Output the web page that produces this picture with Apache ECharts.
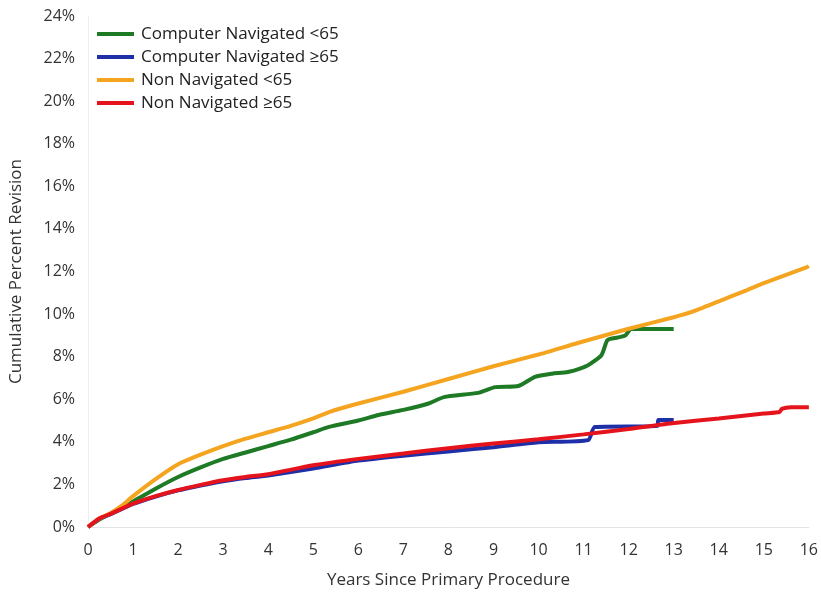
<!DOCTYPE html>
<html>
<head>
<meta charset="utf-8">
<script src="https://cdn.jsdelivr.net/npm/echarts@6/dist/echarts.min.js"></script>
<style>html,body{margin:0;padding:0;background:#fff}#c{width:821px;height:595px}</style>
</head>
<body>
<div id="c"></div>
<script>
const seriesNames = ['Computer Navigated <65', 'Computer Navigated \u226565', 'Non Navigated <65', 'Non Navigated \u226565'];
const compNavUnder65 = [[0,0],[0.25,0.35],[0.5,0.62],[0.75,0.9],[1,1.2],[1.5,1.8],[2,2.35],[2.5,2.8],[3,3.2],[3.5,3.5],[4,3.8],[4.5,4.1],[5,4.45],[5.35,4.7],[6,5.0],[6.45,5.26],[7,5.5],[7.56,5.8],[7.9,6.1],[8.66,6.3],[9.04,6.57],[9.55,6.62],[9.92,7.05],[10.3,7.2],[10.65,7.28],[11.1,7.6],[11.4,8.08],[11.53,8.78],[11.76,8.9],[11.93,9.0],[12.05,9.3],[13,9.3]];
const compNavOver65 = [[0,0],[0.25,0.38],[0.5,0.6],[1,1.08],[1.5,1.43],[2,1.72],[2.5,1.95],[3,2.15],[3.5,2.3],[4,2.42],[5,2.75],[6,3.12],[7,3.35],[8,3.55],[9,3.75],[10,3.98],[11.1,4.08],[11.25,4.7],[12.64,4.75],[12.66,5.02],[13,5.02]];
const nonNavUnder65 = [[0,0],[0.25,0.4],[0.5,0.65],[0.75,1.0],[1,1.45],[1.5,2.25],[2,2.95],[2.5,3.4],[3,3.8],[3.5,4.15],[4,4.45],[4.5,4.75],[5,5.1],[5.35,5.4],[6,5.8],[7,6.35],[8,6.95],[9,7.55],[10,8.1],[10.87,8.64],[11.98,9.3],[13,9.85],[13.4,10.1],[14,10.6],[14.63,11.13],[15,11.45],[15.96,12.2],[16,12.25]];
const nonNavOver65 = [[0,0],[0.25,0.4],[0.5,0.62],[1,1.1],[1.5,1.45],[2,1.74],[2.5,1.98],[3,2.2],[3.5,2.35],[4,2.48],[5,2.9],[6,3.2],[7,3.45],[8,3.7],[9,3.92],[10,4.12],[11,4.35],[12,4.6],[12.86,4.85],[14,5.1],[15,5.33],[15.35,5.4],[15.4,5.55],[15.6,5.63],[16,5.63]];
const colors = ['#1f7a26', '#1f2fa8', '#f5a41f', '#e5141c'];

const chart = echarts.init(document.getElementById('c'));
const datasets = [compNavUnder65, compNavOver65, nonNavUnder65, nonNavOver65];
chart.setOption({
  animation: false,
  textStyle: { fontFamily: 'Open Sans' },
  color: colors,
  legend: {
    orient: 'vertical', left: 92, top: 20, itemWidth: 37, itemHeight: 4, itemGap: 5,
    icon: 'rect',
    textStyle: { fontSize: 17, lineHeight: 18, color: '#222', padding: [0, 0, 0, 2] },
    data: seriesNames
  },
  grid: { left: 88, right: 9, top: 16, bottom: 68 },
  xAxis: {
    type: 'value', min: 0, max: 16, interval: 1,
    name: 'Years Since Primary Procedure', nameLocation: 'middle', nameGap: 45,
    nameTextStyle: { fontSize: 17, color: '#333' },
    axisLine: { show: true, lineStyle: { color: '#e3e3e3', width: 1 } },
    axisTick: { show: false },
    splitLine: { show: false },
    axisLabel: { fontSize: 16, color: '#333', margin: 15 }
  },
  yAxis: {
    type: 'value', min: 0, max: 24, interval: 2,
    name: 'Cumulative Percent Revision', nameLocation: 'middle', nameGap: 63,
    nameTextStyle: { fontSize: 17, color: '#333' },
    axisLine: { show: true, lineStyle: { color: '#eeeeee', width: 1 } },
    axisTick: { show: false },
    splitLine: { show: false },
    axisLabel: { fontSize: 16, color: '#333', margin: 13, formatter: v => v + '%' }
  },
  series: datasets.map((d, i) => ({
    name: seriesNames[i], type: 'line', data: d, showSymbol: false, smooth: 0.2,
    lineStyle: { width: 4, color: colors[i] }, itemStyle: { color: colors[i] }
  }))
});
</script>
</body>
</html>
